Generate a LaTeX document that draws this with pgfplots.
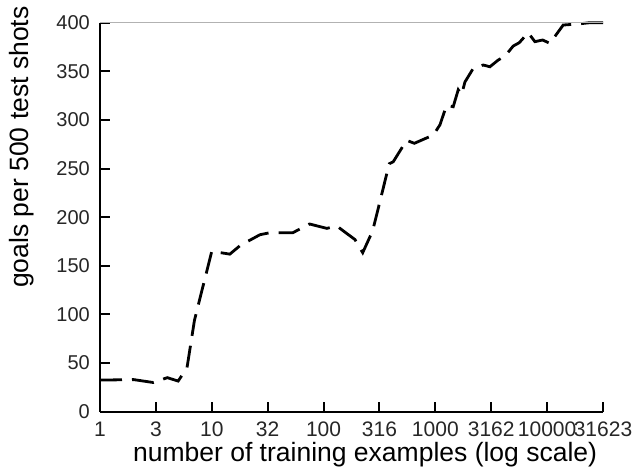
\documentclass[border=0pt]{standalone}
\usepackage{fontspec}
\setmainfont{Liberation Sans}
\usepackage{pgfplots}
\pgfplotsset{compat=1.18}
\begin{document}
\begin{tikzpicture}
\begin{axis}[
  at={(0,0)}, anchor=south west,
  scale only axis, width=503pt, height=389pt,
  xmode=log, xmin=1, xmax=31623, ymin=0, ymax=400,
  axis lines=left, axis line style={-, line width=2.2pt, black},
  clip=false,
  xtick={1,3.1623,10,31.623,100,316.23,1000,3162.3,10000,31623},
  xticklabels={1,3,10,32,100,316,1000,3162,10000,31623},
  ytick={0,50,...,400},
  tick align=inside, major tick length=10pt,
  tick style={line width=2pt, black},
  minor tick num=0, log basis x=10,
  /pgf/number format/assume math mode=true,
  xticklabel style={font=\fontsize{21}{23}\selectfont, text=black!85, anchor=north, inner sep=0pt, yshift=-10pt},
  yticklabel style={font=\fontsize{20}{22}\selectfont, text=black!85, anchor=east, inner sep=0pt, xshift=-10pt},
  xlabel={number of training examples (log scale)},
  ylabel={goals per 500 test shots},
  xlabel style={font=\fontsize{26.5}{30}\selectfont, at={(axis description cs:0.527,-0.111)}, anchor=center, inner sep=0pt},
  ylabel style={font=\fontsize{26.5}{30}\selectfont, at={(axis description cs:-0.155,0.680)}, anchor=center, inner sep=0pt},
]
\addplot[black, line width=2.8pt, dash pattern=on 22pt off 10pt] coordinates {
(1,32.5) (2,33) (3,30) (4,35) (5,31.5) (6,45) (7,94) (10,165)
(14.5,162) (18,171) (27,182) (33,184) (53,184) (75,193) (107,188.5)
(131,191) (191,177) (224,163.5) (275,186) (324,219) (387,255) (420,257)
(553,279) (650,276) (960,284.5) (1100,295) (1260,315) (1445,313.6)
(1603,331) (1718,326) (1840,339) (2183,353) (2681,356.5) (3077,354.7)
(3655,361.6) (4197,365.7) (4977,376) (5630,379.4) (6770,389.7)
(7780,380.5) (9110,382.2) (10590,378.8) (13930,397.6) (18960,398.7)
(24150,400) (31623,400)
};
\draw[gray!60, line width=0.8pt] (rel axis cs:0,1) -- (rel axis cs:1,1);
\end{axis}
\pgfresetboundingbox
\path (-100pt,-58.3pt) rectangle (532pt,411.7pt);
\end{tikzpicture}
\end{document}
